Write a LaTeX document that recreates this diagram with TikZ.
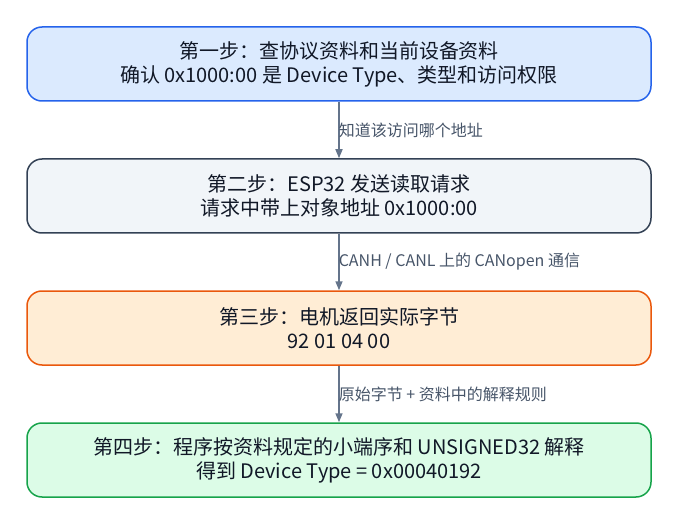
\documentclass[tikz,border=0pt]{standalone}
\usepackage{fontspec}
\setmainfont{Noto Sans CJK SC}
\usetikzlibrary{positioning,arrows.meta}
\definecolor{BlueFill}{HTML}{DBEAFE}
\definecolor{BlueLine}{HTML}{2563EB}
\definecolor{SlateFill}{HTML}{F1F5F9}
\definecolor{SlateLine}{HTML}{334155}
\definecolor{OrangeFill}{HTML}{FFEDD5}
\definecolor{OrangeLine}{HTML}{EA580C}
\definecolor{GreenFill}{HTML}{DCFCE7}
\definecolor{GreenLine}{HTML}{16A34A}
\definecolor{EdgeColor}{HTML}{64748B}
\definecolor{LabelColor}{HTML}{475569}
\definecolor{TextColor}{HTML}{111827}

\begin{document}
\begin{tikzpicture}[
      x=1pt,y=-1pt,
      stepbox/.style={rectangle,rounded corners=15pt,line width=1.5pt,minimum width=624pt,
        minimum height=74pt,align=center,font=\fontsize{20}{24}\selectfont,text=TextColor,inner sep=0pt},
      edge/.style={-{Triangle[length=9pt,width=7pt]},line width=1.5pt,draw=EdgeColor},
      lbl/.style={anchor=west,font=\fontsize{16}{18}\selectfont,text=LabelColor,inner sep=0pt}
    ]
    \useasboundingbox (0,0) rectangle (678,524);
    \node[stepbox,fill=BlueFill,draw=BlueLine] (s1) at (339,64)
      {第一步：查协议资料和当前设备资料\\确认 0x1000:00 是 Device Type、类型和访问权限};
    \node[stepbox,fill=SlateFill,draw=SlateLine] (s2) at (339,196)
      {第二步：ESP32 发送读取请求\\请求中带上对象地址 0x1000:00};
    \node[stepbox,fill=OrangeFill,draw=OrangeLine] (s3) at (339,328)
      {第三步：电机返回实际字节\\92 01 04 00};
    \node[stepbox,fill=GreenFill,draw=GreenLine] (s4) at (339,460)
      {第四步：程序按资料规定的小端序和 UNSIGNED32 解释\\得到 Device Type = 0x00040192};
    \foreach \a/\b/\t in {s1/s2/{知道该访问哪个地址},s2/s3/{CANH / CANL 上的 CANopen 通信},s3/s4/{原始字节 + 资料中的解释规则}}{
      \draw[edge] (\a) -- (\b) node[lbl,midway,xshift=-1pt] {\t};
    }
  \end{tikzpicture}
\end{document}
